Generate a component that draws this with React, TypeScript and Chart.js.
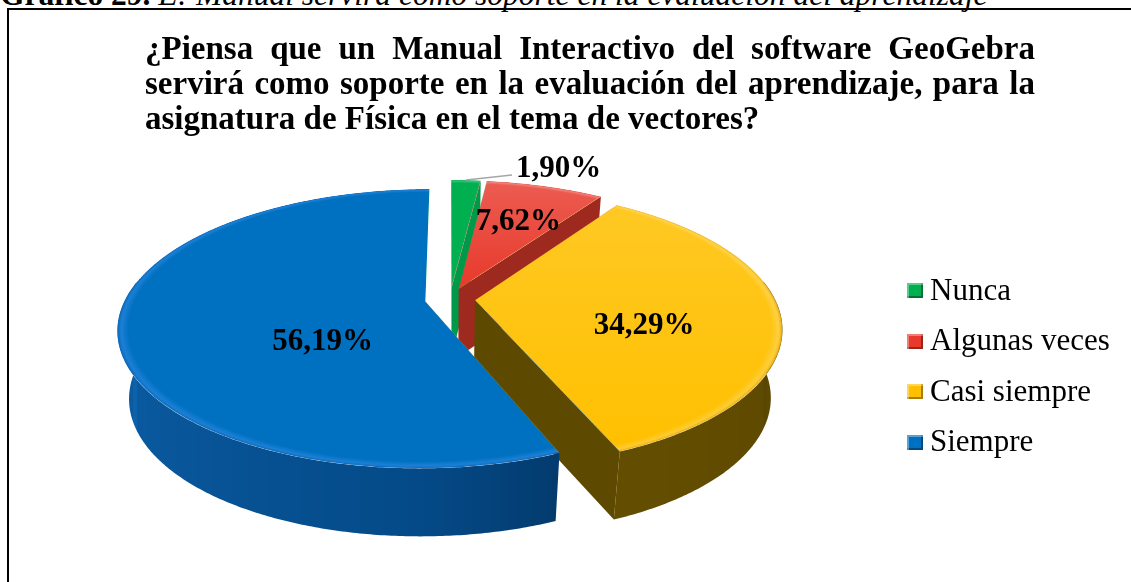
import React, { useEffect, useRef } from 'react';
import { Chart, registerables } from 'chart.js';

Chart.register(...registerables);

// ---------- data ----------
const categories = ['Nunca', 'Algunas veces', 'Casi siempre', 'Siempre'];
const percentages = [1.9, 7.62, 34.29, 56.19];

const titleLines = [
  '¿Piensa que un Manual Interactivo del software GeoGebra',
  'servirá como soporte en la evaluación del aprendizaje, para la',
  'asignatura de Física en el tema de vectores?',
];
const captionBold = 'Gráfico 29.';
const captionRest = ' E: Manual servirá como soporte en la evaluación del aprendizaje';

// ---------- styles ----------
const topColors = ['#00b050', '#e8392c', '#ffc000', '#0070c0'];
const rimColors = ['#30c878', '#ee6a60', '#ffcc33', '#1c80d6'];
const edgeColors = ['#00a048', '#d83024', '#e6a900', '#0a68b8'];
const sheenAlpha = [0, 0.18, 0.14, 0];
const wallLeftColors = ['#00a04a', '#b0352a', '#705800', '#0d62ac'];
const wallFrontColors = ['#009644', '#a22c22', '#665000', '#044a88'];
const wallRightColors = ['#008a3e', '#922418', '#5a4600', '#000c1e'];
const cutFaceColors = ['#00994a', '#9e2a1f', '#5d4900', '#003a6a'];

const SERIF = '"Liberation Serif", "Times New Roman", serif';
const VIEW = { radius: 300, explode: 25, tilt: 0.4447, persp: 0.000655, depth: 68, converge: 0.965 };

type P = [number, number];

function hexToRgb(h: string) {
  const n = parseInt(h.slice(1), 16);
  return [(n >> 16) & 255, (n >> 8) & 255, n & 255];
}
function mix(a: string, b: string, t: number) {
  const A = hexToRgb(a);
  const B = hexToRgb(b);
  const c = A.map((v, j) => Math.round(v + (B[j] - v) * t));
  return `rgb(${c[0]},${c[1]},${c[2]})`;
}
function wallColor(i: number, a: number) {
  const h = Math.PI / 2;
  if (a >= h) return mix(wallFrontColors[i], wallLeftColors[i], Math.min(1, (a - h) / h));
  return mix(wallFrontColors[i], wallRightColors[i], Math.min(1, (h - a) / h));
}
function pathPoly(ctx: CanvasRenderingContext2D, pts: P[]) {
  ctx.beginPath();
  pts.forEach((p, i) => (i ? ctx.lineTo(p[0], p[1]) : ctx.moveTo(p[0], p[1])));
  ctx.closePath();
}
function centroid(pts: P[]): P {
  let A = 0, X = 0, Y = 0;
  for (let i = 0; i < pts.length; i++) {
    const [x0, y0] = pts[i];
    const [x1, y1] = pts[(i + 1) % pts.length];
    const c = x0 * y1 - x1 * y0;
    A += c; X += (x0 + x1) * c; Y += (y0 + y1) * c;
  }
  A /= 2;
  return [X / (6 * A), Y / (6 * A)];
}
const fmt = (v: number) => v.toFixed(2).replace('.', ',') + '%';

const pie3d = {
  id: 'pie3d',
  afterDatasetsDraw(chart: any) {
    const meta = chart.getDatasetMeta(0);
    const arcs = meta.data as any[];
    if (!arcs || !arcs.length) return;
    const canvas: HTMLCanvasElement = chart.canvas;
    const W = canvas.width, H = canvas.height;
    const src = document.createElement('canvas');
    src.width = W; src.height = H;
    src.getContext('2d')!.drawImage(canvas, 0, 0);
    const ctx: CanvasRenderingContext2D = chart.ctx;
    ctx.save();
    ctx.setTransform(1, 0, 0, 1, 0, 0);
    ctx.clearRect(0, 0, W, H);
    ctx.imageSmoothingEnabled = true;
    (ctx as any).imageSmoothingQuality = 'high';

    const base = arcs[0].getProps(['x', 'y', 'outerRadius'], true);
    const cx = base.x, cy = base.y, Rf = base.outerRadius;
    const R = VIEW.radius, k = R / Rf;
    const proj = (U: number, V: number): P => {
      const s = 1 / (1 - VIEW.persp * V);
      return [cx + U * s, cy + VIEW.tilt * V * s];
    };
    const drop = (p: P): P => [cx + (p[0] - cx) * VIEW.converge, p[1] + VIEW.depth];

    const slices = arcs.map((arc, i) => {
      const { startAngle: a0, endAngle: a1 } = arc.getProps(['startAngle', 'endAngle'], true);
      const mid = (a0 + a1) / 2;
      const eU = Math.cos(mid) * VIEW.explode, eV = Math.sin(mid) * VIEW.explode;
      const at = (a: number, r: number) => proj(eU + Math.cos(a) * r, eV + Math.sin(a) * r);
      const n = Math.max(6, Math.ceil((a1 - a0) / 0.01));
      const angles: number[] = [];
      for (let j = 0; j <= n; j++) angles.push(a0 + ((a1 - a0) * j) / n);
      const rim = angles.map((a) => at(a, R));
      const apex = proj(eU, eV);
      return { i, a0, a1, mid, eU, eV, at, angles, rim, apex, poly: [apex, ...rim] as P[] };
    });

    // side walls, back to front
    const order = [...slices].sort((p, q) => p.eV - q.eV);
    for (const sl of order) {
      const vis: number[] = [];
      sl.angles.forEach((a, j) => { if (Math.sin(a) >= -0.15) vis.push(j); });
      if (vis.length >= 2) {
        const top = vis.map((j) => sl.rim[j]);
        const bot = top.map(drop).reverse();
        const poly = [...top, ...bot];
        const xs = poly.map((p) => p[0]);
        const xmin = Math.min(...xs), xmax = Math.max(...xs);
        const g = ctx.createLinearGradient(xmin, 0, xmax, 0);
        const samples = vis
          .map((j) => ({ x: sl.rim[j][0], c: wallColor(sl.i, sl.angles[j]) }))
          .sort((p, q) => p.x - q.x);
        g.addColorStop(0, samples[0].c);
        samples.forEach((s) => {
          g.addColorStop(Math.min(1, Math.max(0, (s.x - xmin) / (xmax - xmin))), s.c);
        });
        g.addColorStop(1, samples[samples.length - 1].c);
        pathPoly(ctx, poly);
        ctx.fillStyle = g;
        ctx.fill();
      }
      const face = (rp: P) => {
        pathPoly(ctx, [sl.apex, rp, drop(rp), drop(sl.apex)]);
        ctx.fillStyle = cutFaceColors[sl.i];
        ctx.fill();
      };
      if (-Math.cos(sl.a0) > 0.02) face(sl.rim[0]);
      if (Math.cos(sl.a1) > 0.02) face(sl.rim[sl.rim.length - 1]);
    }

    // top faces: the library-drawn flat pie warped into perspective
    const sx0 = cx - Rf - 4, sw = 2 * Rf + 8;
    const vOf = (y: number) => {
      const Y = y - cy;
      return Y / (VIEW.tilt + VIEW.persp * Y);
    };
    for (const sl of slices) {
      ctx.save();
      pathPoly(ctx, sl.poly);
      ctx.clip();
      const ys = sl.poly.map((p) => p[1]);
      const minY = Math.floor(Math.min(...ys)) - 1;
      const maxY = Math.ceil(Math.max(...ys)) + 1;
      for (let y = minY; y < maxY; y++) {
        const V = vOf(y + 0.5);
        const s = 1 / (1 - VIEW.persp * V);
        const vfA = (vOf(y) - sl.eV) / k;
        const vfB = (vOf(y + 1) - sl.eV) / k;
        const sh = Math.max(vfB - vfA, 0.5);
        const dx0 = cx + (k * (sx0 - cx) + sl.eU) * s;
        const dw = k * sw * s;
        ctx.drawImage(src, sx0, cy + vfA, sw, sh, dx0, y, dw, 1);
      }
      if (sheenAlpha[sl.i] > 0) {
        const g = ctx.createLinearGradient(0, minY, 0, maxY);
        g.addColorStop(0, `rgba(255,255,255,${sheenAlpha[sl.i]})`);
        g.addColorStop(1, 'rgba(255,255,255,0)');
        ctx.fillStyle = g;
        ctx.fillRect(0, minY, W, maxY - minY);
      }
      ctx.restore();
    }

    // data labels
    ctx.font = `bold 31px ${SERIF}`;
    ctx.fillStyle = '#000';
    for (const sl of slices) {
      const txt = fmt(percentages[sl.i]);
      if (percentages[sl.i] >= 3) {
        const c = centroid(sl.poly);
        ctx.textAlign = 'center';
        ctx.textBaseline = 'alphabetic';
        ctx.fillText(txt, c[0] + 2, c[1] + 9);
      } else {
        const p = sl.at(sl.mid, R);
        ctx.strokeStyle = '#a6a6a6';
        ctx.lineWidth = 1.5;
        ctx.beginPath();
        ctx.moveTo(p[0], p[1]);
        ctx.lineTo(p[0] + 46, p[1] - 5);
        ctx.stroke();
        ctx.textAlign = 'left';
        ctx.textBaseline = 'alphabetic';
        ctx.fillText(txt, p[0] + 50, p[1] - 3);
      }
    }
    ctx.restore();
  },
};

function PieChart() {
  const ref = useRef<HTMLCanvasElement | null>(null);
  useEffect(() => {
    const canvas = ref.current;
    if (!canvas) return;
    const chart = new Chart(canvas, {
      type: 'pie',
      data: {
        labels: categories,
        datasets: [
          {
            data: percentages,
            borderWidth: 0,
            hoverOffset: 0,
            backgroundColor: (c: any) => {
              const i = c.dataIndex ?? 0;
              const area = c.chart.chartArea;
              if (!area) return topColors[i];
              const x = (area.left + area.right) / 2;
              const y = (area.top + area.bottom) / 2;
              const r = Math.min(area.right - area.left, area.bottom - area.top) / 2;
              const g = c.chart.ctx.createRadialGradient(x, y, 0, x, y, r);
              g.addColorStop(0, topColors[i]);
              g.addColorStop(0.965, topColors[i]);
              g.addColorStop(0.988, rimColors[i]);
              g.addColorStop(1, edgeColors[i]);
              return g;
            },
          } as any,
        ],
      },
      options: {
        responsive: false,
        animation: false,
        events: [],
        devicePixelRatio: 1,
        layout: { padding: { left: 0, right: 231, top: 16, bottom: 0 } },
        plugins: { legend: { display: false }, tooltip: { enabled: false } },
      },
      plugins: [pie3d as any],
    });
    return () => chart.destroy();
  }, []);
  return (
    <canvas
      ref={ref}
      width={1131}
      height={582}
      style={{ position: 'absolute', left: 0, top: 0, width: 1131, height: 582, display: 'block' }}
    />
  );
}

export default function App() {
  return (
    <div style={{ position: 'fixed', inset: 0, overflow: 'hidden', background: '#fff', color: '#000' }}>
      <div
        style={{
          position: 'absolute', left: 0, top: -21, fontFamily: SERIF, fontSize: 31.5, lineHeight: '31px',
          whiteSpace: 'nowrap',
        }}
      >
        <b>{captionBold}</b>
        <i>{captionRest}</i>
      </div>
      <div
        style={{
          position: 'absolute', left: 7, top: 8, width: 1300, height: 800,
          border: '2px solid #000', boxSizing: 'border-box',
        }}
      />
      <PieChart />
      <div
        style={{
          position: 'absolute', left: 145, top: 31, width: 890,
          fontFamily: SERIF, fontWeight: 700, fontSize: 33, lineHeight: '35px',
        }}
      >
        {titleLines.map((l, i) => {
          const last = i === titleLines.length - 1;
          return (
            <div key={i} style={{ textAlign: last ? 'left' : 'justify', textAlignLast: last ? 'left' : 'justify' } as any}>
              {l}
            </div>
          );
        })}
      </div>
      {categories.map((c, i) => {
        const baseline = 300 + i * 50.5;
        return (
          <React.Fragment key={c}>
            <div
              style={{
                position: 'absolute', left: 907, top: baseline - 17, width: 16, height: 15,
                background: topColors[i], boxSizing: 'border-box',
                boxShadow: 'inset 2px 2px 0 rgba(255,255,255,0.35), inset -2px -2px 0 rgba(0,0,0,0.35)',
              }}
            />
            <div
              style={{
                position: 'absolute', left: 930, top: baseline - 27.4, height: 34, lineHeight: '34px',
                fontFamily: SERIF, fontSize: 31, whiteSpace: 'nowrap',
              }}
            >
              {c}
            </div>
          </React.Fragment>
        );
      })}
    </div>
  );
}
